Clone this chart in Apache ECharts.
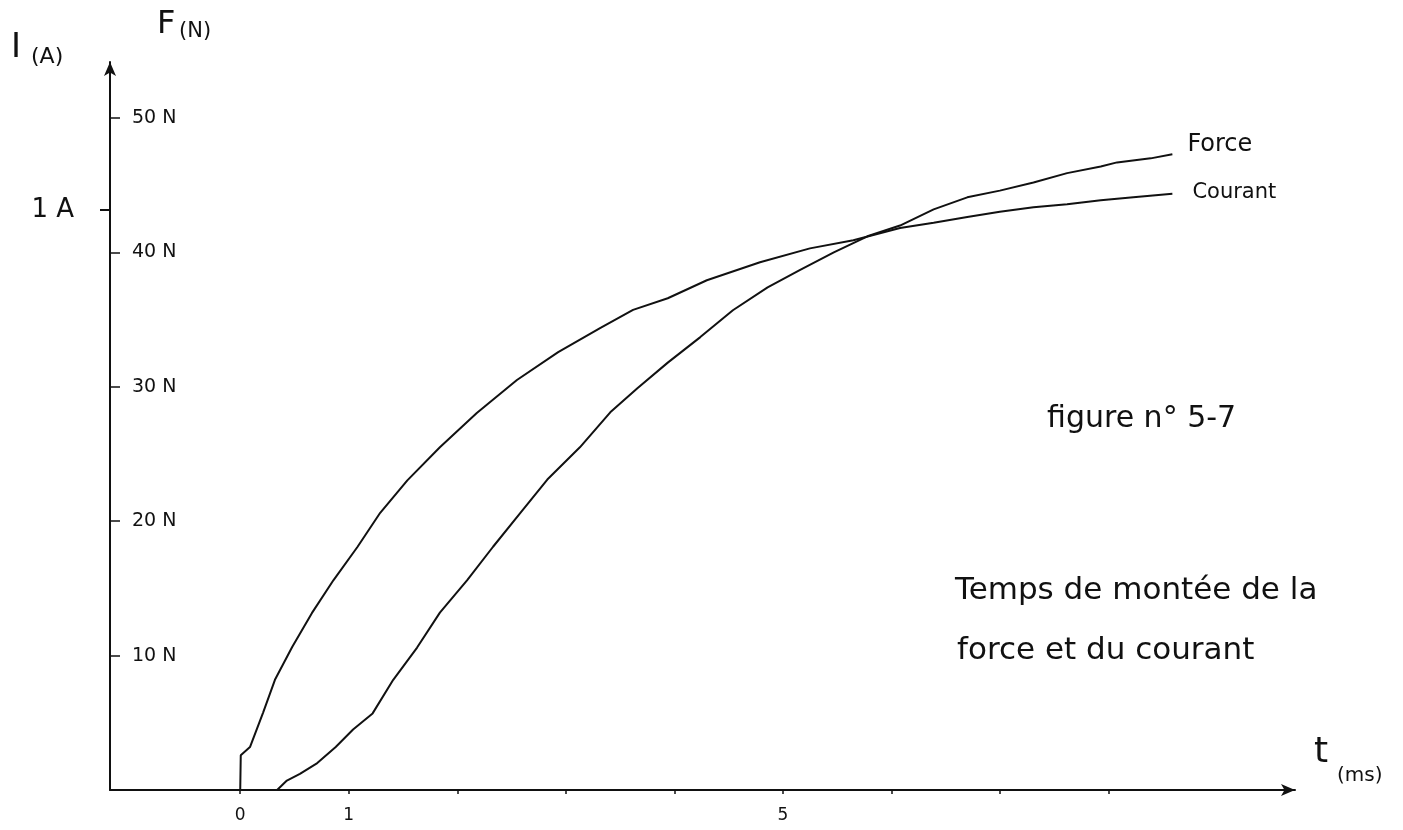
<!DOCTYPE html>
<html>
<head>
<meta charset="utf-8">
<title>Temps de montée de la force et du courant</title>
<script src="https://cdn.jsdelivr.net/npm/echarts@6/dist/echarts.min.js"></script>
<style>
  html, body { margin: 0; padding: 0; background: #ffffff; }
  #chart { width: 1403px; height: 830px; }
</style>
</head>
<body>
<div id="chart"></div>
<script>
// Axis ticks and labels
const timeTicks = [0, 1, 2, 3, 4, 5, 6, 7, 8];      // ms
const timeLabels = [0, 1, 5];
const forceTicks = [10, 20, 30, 40, 50];             // N
const currentTicks = [1];                            // A

// Force (N) versus time (ms)
const forceT = [0, 0.34, 0.43, 0.55, 0.71, 0.88, 1.04, 1.22, 1.41, 1.63,
                1.84, 2.09, 2.33, 2.58, 2.83, 3.13, 3.41, 3.66, 3.94, 4.24,
                4.54, 4.86, 5.16, 5.47, 5.78, 6.08, 6.39, 6.70, 7.00, 7.31,
                7.62, 7.93, 8.08, 8.39, 8.59];
const forceN = [0, 0, 0.7, 1.2, 2.0, 3.2, 4.5, 5.7, 8.2, 10.6,
                13.2, 15.6, 18.1, 20.6, 23.1, 25.5, 28.1, 29.9, 31.8, 33.7,
                35.7, 37.4, 38.7, 40.0, 41.2, 42.0, 43.2, 44.1, 44.6, 45.2,
                45.9, 46.4, 46.7, 47.0, 47.3];

// Current (A) versus time (ms)
const courantT = [0, 0.005, 0.09, 0.21, 0.32, 0.48, 0.66, 0.86, 1.08, 1.29,
                  1.54, 1.84, 2.18, 2.55, 2.93, 3.32, 3.62, 3.94, 4.30, 4.79,
                  5.25, 5.65, 6.08, 6.39, 6.70, 7.00, 7.31, 7.62, 7.93, 8.23,
                  8.59];
const courantA = [0, 0.060, 0.074, 0.133, 0.190, 0.247, 0.305, 0.362, 0.419, 0.478,
                  0.534, 0.591, 0.650, 0.707, 0.755, 0.797, 0.828, 0.848, 0.879, 0.910,
                  0.934, 0.948, 0.969, 0.978, 0.988, 0.997, 1.005, 1.010, 1.017, 1.022,
                  1.028];

const ink = '#111111';
const hand = '"DejaVu Sans", sans-serif';
const print = '"DejaVu Sans", "Liberation Sans", sans-serif';

// Force and current share one vertical line: 1 A sits at the height of 43.15 N
const FORCE_MAX = 54.17;
const AMP_PER_N = 1 / 43.15;

const chart = echarts.init(document.getElementById('chart'), null, { renderer: 'canvas' });

const arrowLine = {
  show: true,
  onZero: false,
  symbol: ['none', 'arrow'],
  symbolSize: [9, 14],
  lineStyle: { color: ink, width: 2 }
};

const option = {
  animation: false,
  backgroundColor: '#ffffff',
  textStyle: { fontFamily: hand, color: ink },
  grid: { left: 110, right: 108, top: 62, bottom: 40 },
  xAxis: {
    type: 'value',
    min: -1.2,
    max: 9.72,
    axisLine: arrowLine,
    axisTick: {
      show: true,
      customValues: timeTicks,
      length: 4,
      lineStyle: { color: ink, width: 1.5 }
    },
    axisLabel: {
      customValues: timeLabels,
      color: ink,
      fontFamily: hand,
      fontSize: 17,
      margin: 17
    },
    splitLine: { show: false }
  },
  yAxis: [
    {
      type: 'value',
      position: 'left',
      min: 0,
      max: FORCE_MAX,
      axisLine: arrowLine,
      axisTick: {
        show: true,
        inside: true,
        customValues: forceTicks,
        length: 10,
        lineStyle: { color: ink, width: 1.5 }
      },
      axisLabel: {
        inside: true,
        customValues: forceTicks,
        formatter: v => v + ' N',
        color: ink,
        fontFamily: hand,
        fontSize: 19,
        margin: 22,
        padding: [0, 0, 5, 0]
      },
      splitLine: { show: false }
    },
    {
      type: 'value',
      position: 'left',
      min: 0,
      max: FORCE_MAX * AMP_PER_N,
      axisLine: { show: false, onZero: false },
      axisTick: {
        show: true,
        customValues: currentTicks,
        length: 10,
        lineStyle: { color: ink, width: 2 }
      },
      axisLabel: {
        customValues: currentTicks,
        formatter: v => v + ' A',
        color: ink,
        fontFamily: hand,
        fontSize: 26,
        margin: 36
      },
      splitLine: { show: false }
    }
  ],
  series: [
    {
      name: 'Force',
      type: 'line',
      yAxisIndex: 0,
      data: forceT.map((t, i) => [t, forceN[i]]),
      symbol: 'none',
      smooth: false,
      lineStyle: { color: ink, width: 2 },
      endLabel: {
        show: true,
        formatter: '{a}',
        color: ink,
        fontFamily: hand,
        fontSize: 24,
        offset: [7, -10]
      }
    },
    {
      name: 'Courant',
      type: 'line',
      yAxisIndex: 1,
      data: courantT.map((t, i) => [t, courantA[i]]),
      symbol: 'none',
      smooth: false,
      lineStyle: { color: ink, width: 2 },
      endLabel: {
        show: true,
        formatter: '{a}',
        color: ink,
        fontFamily: hand,
        fontSize: 21,
        offset: [12, -1]
      }
    }
  ],
  graphic: [
    // axis titles
    { type: 'text', left: 11, top: 31, style: { text: 'I', font: '34px ' + hand, fill: ink } },
    { type: 'text', left: 31, top: 46, style: { text: '(A)', font: '22px ' + hand, fill: ink } },
    { type: 'text', left: 157, top: 9, style: { text: 'F', font: '32px ' + hand, fill: ink } },
    { type: 'text', left: 179, top: 21, style: { text: '(N)', font: '21px ' + hand, fill: ink } },
    { type: 'text', left: 1314, top: 735, style: { text: 't', font: '36px ' + hand, fill: ink } },
    { type: 'text', left: 1337, top: 766, style: { text: '(ms)', font: '20px ' + hand, fill: ink } },
    // caption
    { type: 'text', left: 1047, top: 404, style: { text: 'figure n° 5-7', font: '30px ' + print, fill: ink } },
    { type: 'text', left: 955, top: 575, style: { text: 'Temps de montée de la', font: '31px ' + print, fill: ink } },
    { type: 'text', left: 957, top: 635, style: { text: 'force et du courant', font: '31px ' + print, fill: ink } }
  ]
};

chart.setOption(option);
</script>
</body>
</html>
